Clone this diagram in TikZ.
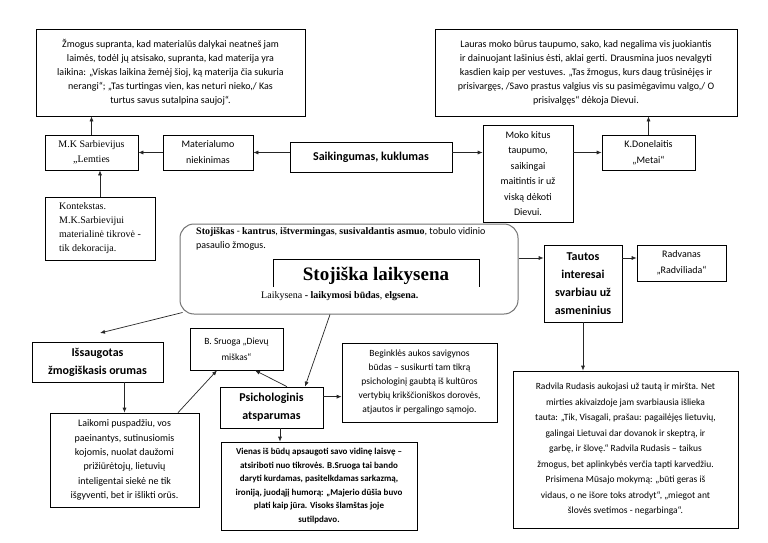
\documentclass[tikz,border=0pt]{standalone}
\usepackage{fontspec}
\setmainfont{Carlito}
\newfontfamily\tnr{Liberation Serif}
\usetikzlibrary{arrows.meta,calc}
\newcommand\fs[2]{\fontsize{#1}{#2}\selectfont}
\begin{document}
\begin{tikzpicture}[x=1pt,y=-1pt,
  bx/.style={draw=black, line width=0.7pt, align=center, inner sep=0pt},
  arr/.style={-{Latex[length=5pt,width=4pt]}, line width=0.7pt, draw=black!85},
  txt/.style={font=\fs{10}{14}},
  bld/.style={font=\bfseries\fs{12}{18}},
  tms/.style={font=\tnr\fs{10}{15}}
]
\useasboundingbox (0,0) rectangle (768,543);
\fill[white] (0,0) rectangle (768,543);

% top boxes
\node[bx, txt, minimum width=269pt, minimum height=87pt] (A) at (170.5,72.5)
 {Žmogus supranta, kad materialūs dalykai neatneš jam\\
  laimės, todėl jų atsisako, supranta, kad materija yra\\
  laikina: „Viskas laikina žemėj šioj, ką materija čia sukuria\\
  nerangi“; „Tas turtingas vien, kas neturi nieko,/ Kas\\
  turtus savus sutalpina saujoj“.};
\node[bx, txt, minimum width=302pt, minimum height=87pt] (B) at (586,72.5)
 {Lauras moko būrus taupumo, sako, kad negalima vis juokiantis\\
  ir dainuojant lašinius ėsti, aklai gerti. Drausmina juos nevalgyti\\
  kasdien kaip per vestuves. „Tas žmogus, kurs daug trūsinėjęs ir\\
  prisivargęs, /Savo prastus valgius vis su pasimėgavimu valgo,/ O\\
  prisivalgęs“ dėkoja Dievui.};

% middle row
\node[bx, tms, minimum width=93pt, minimum height=35pt] (C) at (91.5,152.5)
 {M.K Sarbievijus\\ „Lemties};
\node[bx, font=\fs{10}{16}, minimum width=90pt, minimum height=35pt] (D) at (208,152.5)
 {Materialumo\\ niekinimas};
\node[bx, bld, minimum width=162pt, minimum height=30pt] (E) at (371,157)
 {Saikingumas, kuklumas};
\node[bx, font=\fs{10}{15.5}, minimum width=90pt, minimum height=97pt] (F) at (528,173.5)
 {Moko kitus\\ taupumo,\\ saikingai\\ maitintis ir už\\ viską dėkoti\\ Dievui.};
\node[bx, font=\fs{10}{16}, minimum width=93pt, minimum height=35pt] (G) at (648.5,152.5)
 {K.Donelaitis\\ „Metai“};
\node[bx, tms, align=left, font=\tnr\fs{10}{14}, minimum width=110pt, minimum height=63pt] (H) at (100,228.5)
 {Kontekstas.\\ M.K.Sarbievijui\\ materialinė tikrovė -\\ tik dekoracija.};

% central rounded box
\node[draw=black!55, line width=1pt, rounded corners=14pt, minimum width=338pt, minimum height=90pt] (R) at (349,269) {};
\draw[line width=0.7pt] (273,287) -- (273,259) -- (479,259) -- (479,287);
\node[anchor=base, inner sep=0pt] (title) at (376,280) {\tnr\bfseries\fs{19}{22}Stojiška laikysena};
\node[anchor=base west, inner sep=0pt, font=\fs{10}{12}] (s1) at (196,234.5)
 {{\tnr\bfseries Stojiškas} - {\tnr\bfseries kantrus}, {\tnr\bfseries ištvermingas}, {\tnr\bfseries susivaldantis asmuo}, tobulo vidinio};
\node[anchor=base west, inner sep=0pt, font=\fs{10}{12}] (s2) at (196,248.5) {pasaulio žmogus.};
\node[anchor=base west, inner sep=0pt, font=\tnr\fs{10}{12}] (laik) at (261,298)
 {Laikysena {\bfseries - laikymosi būdas}, {\bfseries elgsena.}};

% right side
\node[bx, bld, minimum width=78pt, minimum height=77pt] (T) at (583,283.5)
 {Tautos\\ interesai\\ svarbiau už\\ asmeninius};
\node[bx, font=\fs{10}{16}, minimum width=89pt, minimum height=36pt] (V) at (681.5,263)
 {Radvanas\\ „Radviliada“};
\node[bx, font=\fs{9.5}{15.5}, minimum width=225pt, minimum height=157pt] (Rad) at (625.5,449.5)
 {Radvila Rudasis aukojasi už tautą ir miršta. Net\\
  mirties akivaizdoje jam svarbiausia išlieka\\
  tauta: „Tik, Visagali, prašau: pagailėjęs lietuvių,\\
  galingai Lietuvai dar dovanok ir skeptrą, ir\\
  garbę, ir šlovę.“ Radvila Rudasis – taikus\\
  žmogus, bet aplinkybės verčia tapti karvedžiu.\\
  Prisimena Mūsajo mokymą: „būti geras iš\\
  vidaus, o ne išore toks atrodyt“, „miegot ant\\
  šlovės svetimos - negarbinga“.};

% lower left / center
\node[bx, bld, minimum width=131pt, minimum height=40pt] (I) at (97.5,362)
 {Išsaugotas\\ žmogiškasis orumas};
\node[bx, font=\fs{9.5}{16}, minimum width=93pt, minimum height=42pt] (S) at (236.5,349)
 {B. Sruoga „Dievų\\ miškas“};
\node[bx, font=\fs{9.5}{14}, minimum width=155pt, minimum height=79pt] (Q) at (419.5,382.5)
 {Beginklės aukos savigynos\\ būdas – susikurti tam tikrą\\ psichologinį gaubtą iš kultūros\\ vertybių krikščioniškos dorovės,\\ atjautos ir pergalingo sąmojo.};
\node[bx, bld, minimum width=103pt, minimum height=41pt] (P) at (271.5,407.5)
 {Psichologinis\\ atsparumas};
\node[bx, txt, font=\fs{10}{14.3}, minimum width=149pt, minimum height=94pt] (L) at (124.5,460)
 {Laikomi puspadžiu, vos\\ paeinantys, sutinusiomis\\ kojomis, nuolat daužomi\\ prižiūrėtojų, lietuvių\\ inteligentai siekė ne tik\\ išgyventi, bet ir išlikti orūs.};
\node[bx, font=\bfseries\fs{9}{13.5}, minimum width=196pt, minimum height=88pt] (W) at (319,486)
 {Vienas iš būdų apsaugoti savo vidinę laisvę –\\ atsiriboti nuo tikrovės. B.Sruoga tai bando\\ daryti kurdamas, pasitelkdamas sarkazmą,\\ ironiją, juodąjį humorą: „Majerio dūšia buvo\\ plati kaip jūra. Visoks šlamštas joje\\ sutilpdavo.};

% connectors
\draw[arr] (C.north) -- (A.south -| C.north);
\draw[arr] (D.west) -- (C.east);
\draw[arr] (E.west |- D.west) -- (D.east);
\draw[arr] (E.east |- D.east) -- (F.west |- D.east);
\draw[arr] (F.east |- G.west) -- (G.west);
\draw[arr] (G.north) -- (B.south -| G.north);
\draw[arr] (H.north) -- (C.south -| H.north);
\draw[arr] ([yshift=5pt]R.east |- V.west) -- ([yshift=5pt]T.west |- V.west);
\draw[arr] ([yshift=5pt]T.east |- V.west) -- ([yshift=5pt]V.west);
\draw[arr] (T.south) -- (T.south |- Rad.north);
\coordinate (ri) at (100,333);
\draw[arr] ([xshift=3pt,yshift=2pt]R.south west) -- (ri);
\draw[arr] ([xshift=-19pt]R.south) -- ([xshift=33.5pt]P.north);
\draw[arr] (L.north |- I.south) -- (L.north);
\draw[arr] ([xshift=53.5pt]L.north) -- ([xshift=-19.5pt]S.south);
\draw[arr] ([xshift=15.5pt]P.north) -- ([xshift=18.5pt]S.south);
\draw[arr] ([yshift=-10pt]P.north east) -- ([yshift=-10pt]P.north east -| Q.west);
\draw[arr] ([xshift=8.5pt]P.south) -- ([xshift=8.5pt]P.south |- W.north);
\end{tikzpicture}
\end{document}
